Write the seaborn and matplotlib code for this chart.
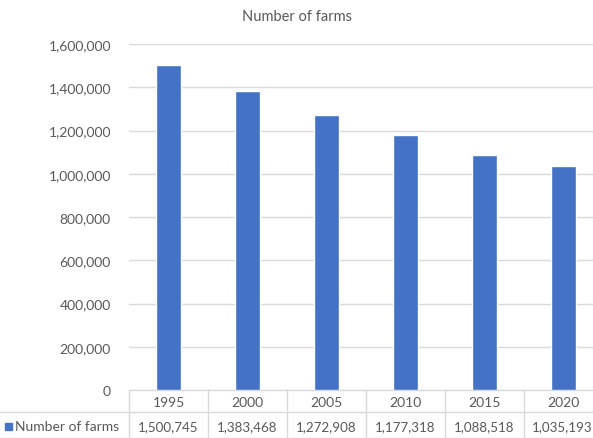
import matplotlib
matplotlib.use("Agg")
import matplotlib.pyplot as plt
import matplotlib.transforms as mtransforms
from matplotlib.patches import Rectangle
from matplotlib.ticker import FuncFormatter
import seaborn as sns
import pandas as pd

years = ["1995", "2000", "2005", "2010", "2015", "2020"]
farms = [1500745, 1383468, 1272908, 1177318, 1088518, 1035193]
series_name = "Number of farms"
title = "Number of farms"

sns.set_theme(style="white")
plt.rcParams["font.family"] = ["Lato", "DejaVu Sans"]

TXT = "#595959"
BAR = "#4472C4"
GRID = "#D9D9D9"

W, H = 593, 439
fig = plt.figure(figsize=(W / 100, H / 100), dpi=100)
ax_left, ax_right = 129 / W, 603 / W
ax_bot, ax_top = 1 - 391 / H, 1 - 45 / H
ax = fig.add_axes([ax_left, ax_bot, ax_right - ax_left, ax_top - ax_bot])

df = pd.DataFrame({"year": years, "farms": farms})
sns.barplot(data=df, x="year", y="farms", color=BAR, width=0.31, ax=ax,
            saturation=1, zorder=3)

ax.set_ylim(0, 1600000)
ax.set_yticks(range(0, 1600001, 200000))
ax.yaxis.set_major_formatter(FuncFormatter(lambda v, p: f"{int(v):,}"))
ax.tick_params(axis="y", labelsize=10, labelcolor=TXT, length=0, pad=13)
ax.set_xticks([])
ax.set_xlabel("")
ax.set_ylabel("")
ax.grid(axis="y", color=GRID, linewidth=1, zorder=0)
for s in ax.spines.values():
    s.set_visible(False)
ax.set_xlim(-0.5, len(years) - 0.5)

fig.text(0.5, 1 - 17 / H, title, ha="center", va="center", fontsize=10.5, color=TXT)

# data table below the axis
axh = 391 - 45
def ay(py):
    return (391 - py) / axh

trans = mtransforms.blended_transform_factory(ax.transData, ax.transAxes)
row1 = ay(403)
row2 = ay(427)
for i, (yr, v) in enumerate(zip(years, farms)):
    ax.text(i, row1, yr, transform=trans, ha="center", va="center",
            fontsize=10, color=TXT, clip_on=False)
    ax.text(i - 0.02 * (i == len(years) - 1), row2, f"{v:,}", transform=trans,
            ha="center", va="center", fontsize=9.6, color=TXT, clip_on=False)

line_kw = dict(color=GRID, linewidth=1, clip_on=False)
for i in range(len(years) + 1):
    ax.plot([i - 0.5, i - 0.5], [0, ay(439)], transform=trans, **line_kw)
ax.plot([-0.5, len(years) - 0.5], [0, 0], transform=trans, **line_kw)
ftrans = mtransforms.blended_transform_factory(fig.transFigure, ax.transAxes)
ax.plot([0, 1], [ay(413), ay(413)], transform=ftrans, **line_kw)
ax.plot([0, 1], [ay(438.5), ay(438.5)], transform=ftrans, **line_kw)

fig.patches.append(Rectangle((5 / W, 1 - 431 / H), 7 / W, 7 / H,
                             transform=fig.transFigure, color=BAR))
fig.text(15 / W, 1 - 427 / H, series_name, ha="left", va="center",
         fontsize=10, color=TXT)

fig.savefig("out.png", dpi=100, facecolor="white")
